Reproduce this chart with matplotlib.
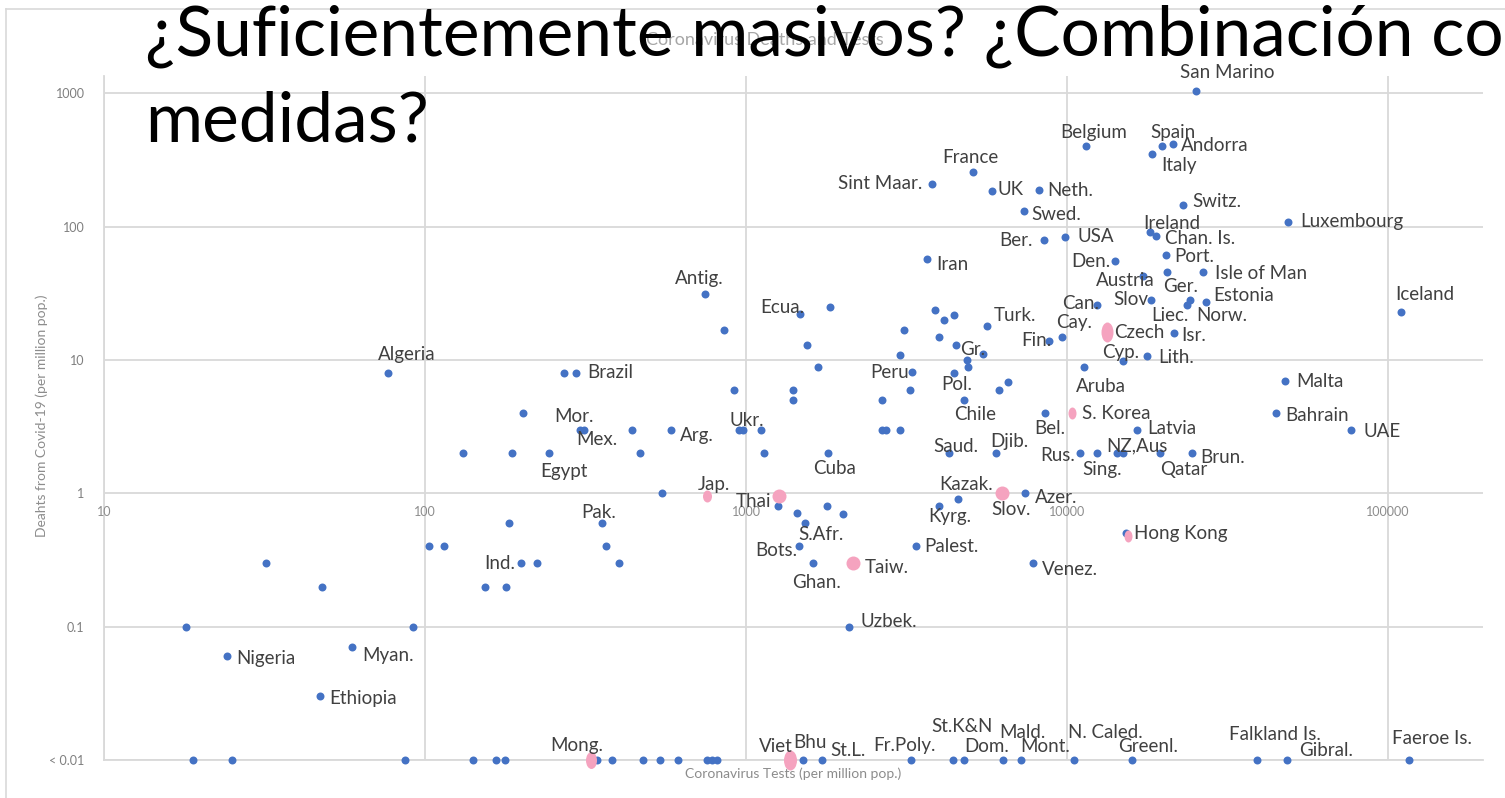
import matplotlib
matplotlib.use("Agg")
import matplotlib.pyplot as plt
from matplotlib.path import Path
from matplotlib.transforms import Affine2D
from matplotlib.lines import Line2D

plt.rcParams["font.family"] = ["Lato", "DejaVu Sans"]

# ---- data (tests / deaths per million pop.) ----
NAMES = ["San Marino", "Belgium", "Spain", "Andorra", "Italy", "France",
         "Sint Maar.", "UK", "Neth.", "Switz.", "Swed.", "Luxembourg",
         "Ireland", "Chan. Is.", "Ber.", "USA", "Port.", "Den.", "Ger.",
         "Austria", "Isle of Man", "Slov", "Can.", "Liec.", "Norw.",
         "Estonia", "Iceland", "Turk.", "Cay.", "Fin.", "Isr.", "Cyp.",
         "Lith.", "Aruba", "Malta", "Iran", "Antig.", "Ecua.", "Gr.",
         "Brazil", "Peru", "Pol.", "Chile", "Algeria", "Mor.", "Mex.",
         "Arg.", "Ukr.", "Egypt", "Cuba", "Saud.", "Djib.", "Bel.",
         "Latvia", "Bahrain", "UAE", "Rus.", "Sing.", "NZ,Aus", "Qatar",
         "Brun.", "Kyrg.", "Kazak.", "Azer.", "Pak.", "Ind.", "S.Afr.",
         "Bots.", "Ghan.", "Palest.", "Venez.", "Uzbek.", "Nigeria",
         "Myan.", "Ethiopia"]
TESTS = [25300, 11500, 19800, 21400, 18400, 5090,
         3790, 5830, 8180, 23000, 7350, 48800,
         18100, 18900, 8450, 9860, 20300, 14100, 20500,
         17300, 26500, 18300, 12400, 23600, 24200,
         27100, 110000, 5630, 9640, 8780, 21500, 14900,
         17700, 11300, 47700, 3660, 745, 1470, 4510,
         295, 3290, 4440, 4770, 76.7, 305, 312,
         583, 978, 243, 1800, 4290, 6000, 8540,
         16500, 44700, 76700, 11000, 12400, 14900, 19500,
         24500, 3990, 4580, 7400, 356, 199, 1530,
         1460, 1620, 3380, 7830, 2090, 24.2,
         59.3, 47.1]
DEATHS = [1040, 400, 400, 417, 351, 257,
          209, 185, 188, 145, 131, 108,
          91, 85, 79, 84, 61, 55, 46,
          43, 46, 28, 26, 26, 28,
          27, 23, 18, 15, 14, 16, 9.8,
          10.7, 8.8, 6.9, 57, 31, 22, 12.9,
          8, 8.1, 8, 5, 8, 3, 3,
          3, 3, 2, 2, 2, 2, 4,
          3, 4, 3, 2, 2, 2, 2,
          2, 0.8, 0.9, 1, 0.6, 0.3, 0.6,
          0.4, 0.3, 0.4, 0.3, 0.1, 0.06,
          0.07, 0.03]

# unlabelled countries
OTHER_TESTS = [5470, 6540, 6160, 1830, 3880, 4140, 4440, 854, 3100, 1550,
               3990, 3020, 4880, 4910, 1675, 271, 917, 1400, 1400, 3240,
               2650, 202, 441, 950, 1110, 2650, 2730, 3020, 131, 187,
               467, 1140, 14300, 547, 1260, 1440, 1790, 2000, 183, 366,
               402, 223, 154, 179, 15300, 103, 115, 31.9, 47.7, 18, 91.7]
OTHER_DEATHS = [11, 6.8, 6, 25, 23.6, 20, 21.7, 16.7, 16.7, 12.9,
                14.8, 10.9, 10, 8.8, 8.8, 8, 6, 6, 5, 6,
                5, 4, 3, 3, 3, 3, 3, 3, 2, 2,
                2, 2, 2, 1, 0.8, 0.71, 0.8, 0.7, 0.6, 0.4,
                0.3, 0.3, 0.2, 0.2, 0.5, 0.4, 0.4, 0.3, 0.2, 0.1, 0.1]

# countries with deaths < 0.01 (drawn on the floor)
FLOOR = 0.01
LOW_NAMES = ["", "", "", "", "", "", "", "", "", "", "", "", "", "",
             "Bhu", "St.L.", "Fr.Poly.", "St.K&N", "Dom.", "Mald.", "Mont.",
             "N. Caled.", "Greenl.", "Falkland Is.", "Gibral.", "Faeroe Is."]
LOW_TESTS = [18.9, 25, 86.7, 141, 167, 177, 343, 383, 477, 540, 616, 754,
             783, 812, 1500, 1725, 3260, 4410, 4770, 6320, 7180, 10500,
             15900, 39000, 48400, 116000]

# highlighted countries (pink)
PINK_NAMES = ["Czech", "S. Korea", "Jap.", "Thai", "Taiw.", "Slov.",
              "Hong Kong", "Mong.", "Viet"]
PINK_TESTS = [13300, 10400, 754, 1270, 2150, 6280, 15500, 329, 1370]
PINK_DEATHS = [16.2, 4, 0.95, 0.95, 0.3, 1.0, 0.48, 0.01, 0.01]

Y_TICKS = [0.01, 0.1, 1, 10, 100, 1000]
Y_TICKLABELS = ["< 0.01", "0.1", "1", "10", "100", "1000"]
X_TICKS = [10, 100, 1000, 10000, 100000]

# ---- styling / label placement (pixels) ----
PINK_SHAPE = {"Czech": (12, 20), "S. Korea": (8, 12), "Jap.": (9, 12),
              "Thai": (14, 14), "Taiw.": (14, 14), "Slov.": (14, 14),
              "Hong Kong": (8, 12), "Mong.": (11, 17), "Viet": (13, 20)}

LABEL_POS = {
    "San Marino": (31, 19, "center"), "Belgium": (7, 14, "center"),
    "Spain": (11, 14, "center"), "Andorra": (8, -2, "left"),
    "Italy": (27, -12, "center"), "France": (-2, 15, "center"),
    "Sint Maar.": (-9, 0, "right"), "UK": (6, 2, "left"),
    "Neth.": (8, 0, "left"), "Switz.": (9, 4, "left"),
    "Swed.": (7, -3, "left"), "Luxembourg": (12, 1, "left"),
    "Ireland": (22, 9, "center"), "Chan. Is.": (9, -2, "left"),
    "Ber.": (-11, 0, "right"), "USA": (12, 0, "left"),
    "Port.": (9, -1, "left"), "Den.": (-5, 0, "right"),
    "Ger.": (14, -15, "center"), "Austria": (-18, -5, "center"),
    "Isle of Man": (12, -2, "left"), "Slov": (-3, 1, "right"),
    "Can.": (-16, 1, "center"), "Liec.": (-17, -11, "center"),
    "Norw.": (32, -15, "center"), "Estonia": (7, 7, "left"),
    "Iceland": (24, 17, "center"), "Turk.": (7, 10, "left"),
    "Cay.": (12, 14, "center"), "Fin.": (-13, 0, "center"),
    "Isr.": (8, -3, "left"), "Cyp.": (-2, 9, "center"),
    "Lith.": (12, -1, "left"), "Aruba": (17, -19, "center"),
    "Malta": (11, 0, "left"), "Iran": (9, -5, "left"),
    "Antig.": (-6, 16, "center"), "Ecua.": (-17, 7, "center"),
    "Gr.": (4, -4, "left"), "Brazil": (11, 0, "left"),
    "Peru": (-22, 0, "center"), "Pol.": (3, -12, "center"),
    "Chile": (11, -14, "center"), "Algeria": (19, 18, "center"),
    "Mor.": (-7, 13, "center"), "Mex.": (13, -10, "center"),
    "Arg.": (9, -6, "left"), "Ukr.": (4, 9, "center"),
    "Egypt": (15, -18, "center"), "Cuba": (7, -15, "center"),
    "Saud.": (7, 7, "center"), "Djib.": (14, 12, "center"),
    "Bel.": (5, -15, "center"), "Latvia": (10, 1, "left"),
    "Bahrain": (10, -2, "left"), "UAE": (12, -2, "left"),
    "Rus.": (-5, -2, "right"), "Sing.": (5, -16, "center"),
    "NZ,Aus": (14, 7, "center"), "Qatar": (24, -16, "center"),
    "Brun.": (8, -4, "left"), "Kyrg.": (11, -10, "center"),
    "Kazak.": (8, 15, "center"), "Azer.": (10, -4, "left"),
    "Pak.": (-3, 10, "center"), "Ind.": (-6, 0, "right"),
    "S.Afr.": (16, -12, "center"), "Bots.": (-22, -4, "center"),
    "Ghan.": (3, -19, "center"), "Palest.": (8, 0, "left"),
    "Venez.": (9, -6, "left"), "Uzbek.": (12, 5, "left"),
    "Nigeria": (9, -2, "left"), "Myan.": (10, -8, "left"),
    "Ethiopia": (9, -2, "left"),
    "Bhu": (7, 17, "center"), "St.L.": (26, 10, "center"),
    "Fr.Poly.": (-6, 15, "center"), "St.K&N": (9, 34, "center"),
    "Dom.": (23, 14, "center"), "Mald.": (19, 27, "center"),
    "Mont.": (24, 14, "center"), "N. Caled.": (32, 27, "center"),
    "Greenl.": (16, 14, "center"), "Falkland Is.": (18, 26, "center"),
    "Gibral.": (39, 10, "center"), "Faeroe Is.": (23, 21, "center"),
    "Czech": (7, 0, "left"), "S. Korea": (10, 0, "left"),
    "Jap.": (7, 12, "center"), "Thai": (-26, -5, "center"),
    "Taiw.": (12, -4, "left"), "Slov.": (9, -16, "center"),
    "Hong Kong": (6, 2, "left"), "Mong.": (-14, 15, "center"),
    "Viet": (-14, 14, "center"),
}

BLUE = "#4472C4"
PINK = "#F5A3BF"
GRID = "#D9D9D9"
LABEL_C = "#404040"
W, H = 1505, 798

fig = plt.figure(figsize=(W / 100, H / 100), dpi=100)
ax = fig.add_axes([104 / W, 38 / H, (1483 - 104) / W, (760 - 76) / H])
ax.set_xscale("log")
ax.set_yscale("log")
ax.set_xlim(10, 10 ** 5.296)
ax.set_ylim(0.01, 10 ** 3.13)

ax.set_yticks(Y_TICKS)
ax.set_yticklabels(Y_TICKLABELS)
ax.set_xticks(X_TICKS)
ax.set_xticklabels([])
ax.minorticks_off()
ax.tick_params(axis="both", length=0)
ax.tick_params(axis="y", pad=14, labelsize=9, labelcolor="#7F7F7F")
ax.grid(True, color=GRID, lw=1.3)
for s in ("top", "right"):
    ax.spines[s].set_visible(False)
for s in ("left", "bottom"):
    ax.spines[s].set_color(GRID)
    ax.spines[s].set_linewidth(1.3)
ax.set_axisbelow(True)

# horizontal axis crosses at 1: labels sit under that line
for xv in X_TICKS:
    ax.annotate(f"{xv}", (xv, 1), xytext=(0, -19), textcoords="offset pixels",
                ha="center", va="center", fontsize=9, color="#8C8C8C")

ax.scatter(TESTS, DEATHS, s=33, color=BLUE, lw=0, zorder=3, clip_on=False)
ax.scatter(OTHER_TESTS, OTHER_DEATHS, s=33, color=BLUE, lw=0, zorder=3,
           clip_on=False)
ax.scatter(LOW_TESTS, [FLOOR] * len(LOW_TESTS), s=33, color=BLUE, lw=0,
           zorder=3, clip_on=False)

circle = Path.unit_circle()
for n, xv, yv in zip(PINK_NAMES, PINK_TESTS, PINK_DEATHS):
    w, h = PINK_SHAPE[n]
    shape = circle.transformed(Affine2D().scale(w / h, 1.0))
    ax.plot([xv], [yv], marker=shape, markersize=h * 0.72, color=PINK,
            mec="none", zorder=4, clip_on=False)


def label(name, xv, yv):
    dx, dy, ha = LABEL_POS[name]
    ax.annotate(name, (xv, yv), xytext=(dx, dy), textcoords="offset pixels",
                ha=ha, va="center", fontsize=13.5, color=LABEL_C, zorder=5,
                annotation_clip=False)


for n, xv, yv in zip(NAMES, TESTS, DEATHS):
    label(n, xv, yv)
for n, xv in zip(LOW_NAMES, LOW_TESTS):
    if n:
        label(n, xv, FLOOR)
for n, xv, yv in zip(PINK_NAMES, PINK_TESTS, PINK_DEATHS):
    label(n, xv, yv)

# axis titles and chart title
fig.text(793 / W, 1 - 774 / H, "Coronavirus Tests (per million pop.)",
         ha="center", va="center", fontsize=10, color="#8C8C8C")
fig.text(42 / W, 1 - 416 / H, "Deahts from Covid-19 (per million pop.)",
         ha="center", va="center", rotation=90, fontsize=10, color="#8C8C8C")
fig.text(765 / W, 1 - 40 / H, "Coronavirus Deaths and Tests",
         ha="center", va="center", fontsize=13, color="#A6A6A6")

# chart area frame (top and left edges visible)
fig.add_artist(Line2D([6 / W, 1], [1 - 9 / H, 1 - 9 / H], color=GRID, lw=1.2))
fig.add_artist(Line2D([6 / W, 6 / W], [0, 1 - 9 / H], color=GRID, lw=1.2))

# slide title laid over the chart; fit its width to the picture
fig.canvas.draw()
r = fig.canvas.get_renderer()
probe = fig.text(0, 0, "¿Suficientemente masivos? ¿Combinación co", fontsize=40)
size = 40 * 1360 / probe.get_window_extent(r).width
probe.remove()
fig.text(145 / W, 1 - 55 / H, "¿Suficientemente masivos? ¿Combinación con",
         ha="left", va="baseline", fontsize=size, color="black")
fig.text(145 / W, 1 - 142 / H, "medidas?", ha="left", va="baseline",
         fontsize=size, color="black")

fig.savefig("out.png", dpi=100)
